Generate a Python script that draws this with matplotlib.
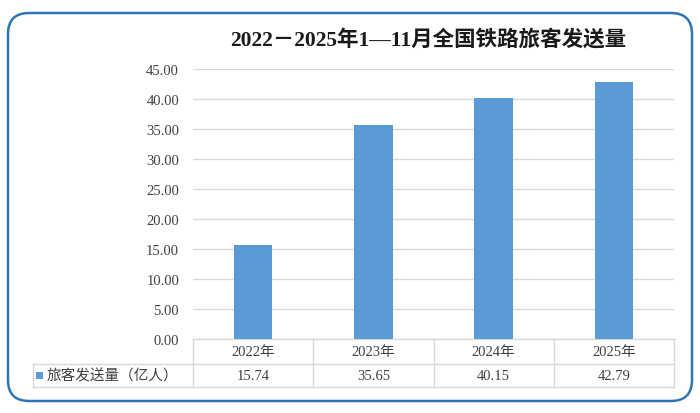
import matplotlib.pyplot as plt
from matplotlib.patches import FancyBboxPatch, Rectangle
from matplotlib.lines import Line2D

# data
years = ['2022年', '2023年', '2024年', '2025年']
values = [15.74, 35.65, 40.15, 42.79]
series_name = '旅客发送量（亿人）'
title = '2022－2025年1—11月全国铁路旅客发送量'
yticks = [0, 5, 10, 15, 20, 25, 30, 35, 40, 45]

W, H = 700, 414
fonts = ['Liberation Serif', 'Noto Sans CJK SC', 'DejaVu Sans']
plt.rcParams['font.family'] = fonts

fig = plt.figure(figsize=(W / 100, H / 100), dpi=100)


def fx(x):
    return x / W


def fy(y):
    return 1 - y / H


# rounded frame
frame = FancyBboxPatch((fx(8), fy(402)), fx(684), 388 / H,
                       boxstyle='round,pad=0,rounding_size=0.03',
                       transform=fig.transFigure, facecolor='white',
                       edgecolor='#2e75b6', linewidth=1.8, mutation_aspect=W / H,
                       zorder=-10)
fig.patches.append(frame)

left, right, top, bottom = 193, 674, 70, 340
ax = fig.add_axes([fx(left), fy(bottom), fx(right - left), (bottom - top) / H])
ax.set_zorder(5)
x = list(range(len(years)))
ax.bar(x, values, width=0.32, color='#5b9bd5', zorder=3)
ax.set_xlim(-0.5, len(years) - 0.5)
ax.set_ylim(0, 45)
ax.set_yticks(yticks)
ax.set_yticklabels(['%.2f' % v for v in yticks], fontsize=10.5, color='#404040')
ax.tick_params(axis='y', length=0, pad=10)
ax.set_xticks([])
ax.grid(axis='y', color='#d9d9d9', linewidth=1, zorder=0)
for s in ax.spines.values():
    s.set_visible(False)
ax.set_facecolor('none')

fig.text(fx(428), fy(40), title, ha='center', va='center', fontsize=15.5,
         fontweight='bold', color='#1a1a1a', family=fonts)

# data table
lc = '#d9d9d9'
col_w = (right - left) / len(years)
row1, row2, row3 = 340, 365, 388
tleft = 33


def hline(x0, x1, y):
    fig.add_artist(Line2D([fx(x0), fx(x1)], [fy(y), fy(y)], color=lc, lw=1,
                          transform=fig.transFigure))


def vline(x, y0, y1):
    fig.add_artist(Line2D([fx(x), fx(x)], [fy(y0), fy(y1)], color=lc, lw=1,
                          transform=fig.transFigure))


hline(left, right, row1)
hline(tleft, right, row2)
hline(tleft, right, row3)
vline(tleft, row2, row3)
for i in range(len(years) + 1):
    vline(left + i * col_w, row1, row3)

for i, (yr, v) in enumerate(zip(years, values)):
    cx = left + (i + 0.5) * col_w
    fig.text(fx(cx), fy((row1 + row2) / 2), yr, ha='center', va='center',
             fontsize=10.5, color='#404040', family=fonts)
    fig.text(fx(cx), fy((row2 + row3) / 2), '%.2f' % v, ha='center', va='center',
             fontsize=10.5, color='#404040', family=fonts)

sq = Rectangle((fx(36), fy(380)), fx(7), 7 / H, facecolor='#5b9bd5',
               edgecolor='none', transform=fig.transFigure, zorder=10)
fig.add_artist(sq)
fig.text(fx(47), fy((row2 + row3) / 2), series_name, ha='left', va='center',
         fontsize=10.5, color='#404040', family=['Noto Sans CJK SC', 'DejaVu Sans'])

fig.savefig('out.png', dpi=100)
